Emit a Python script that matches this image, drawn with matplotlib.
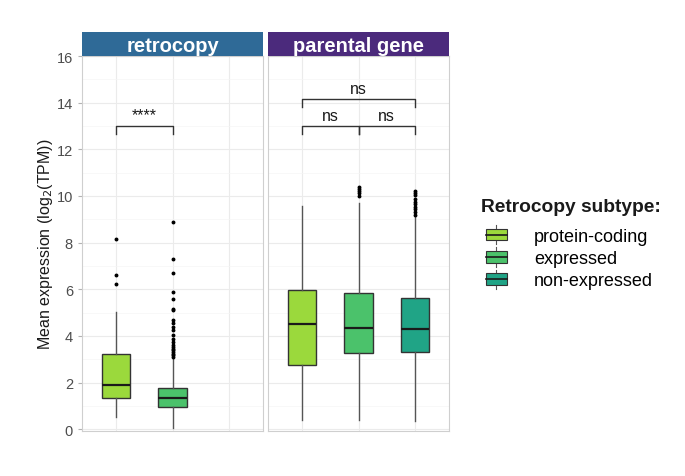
import matplotlib
matplotlib.use("Agg")
import matplotlib.pyplot as plt
from matplotlib.patches import Rectangle
from matplotlib.lines import Line2D
from matplotlib.legend_handler import HandlerBase

plt.rcParams['font.family'] = ['Liberation Sans', 'DejaVu Sans']

panels = ["retrocopy", "parental gene"]
subtypes = ["protein-coding", "expressed", "non-expressed"]
colors = ["#9bd93c", "#4bc26b", "#20a486"]
strip_colors = ["#2f6a97", "#4b2a7c"]

# whislo, q1, med, q3, whishi
retro_stats = [[0.51, 1.35, 1.89, 3.22, 5.03],
               [0.05, 0.97, 1.35, 1.78, 3.03]]
retro_fliers = [[8.16, 6.6, 6.21],
                [8.87, 7.29, 6.7, 5.88, 5.6, 5.14, 5.1, 4.67, 4.57, 4.39, 4.24,
                 4.06, 3.89, 3.75, 3.6, 3.53, 3.46, 3.39, 3.32, 3.25, 3.18, 3.1]]
parent_stats = [[0.4, 2.74, 4.53, 5.97, 9.59],
                [0.4, 3.26, 4.33, 5.85, 9.7],
                [0.36, 3.32, 4.29, 5.63, 9.13]]
parent_fliers = [[],
                 [10.37, 10.3, 10.23, 10.13, 10.0],
                 [10.23, 10.13, 10.03, 9.87, 9.75, 9.65, 9.55, 9.45, 9.32, 9.18]]

# (x1, x2, y, label)
retro_sig = [(1, 2, 13.0, "****")]
parent_sig = [(1, 2, 13.0, "ns"), (2, 3, 13.0, "ns"), (1, 3, 14.15, "ns")]

ylabel = "Mean expression (log$_2$(TPM))"
yticks = [0, 2, 4, 6, 8, 10, 12, 14, 16]
legend_title = "Retrocopy subtype:"


def make_stats(stats, fliers):
    out = []
    for s, f in zip(stats, fliers):
        out.append(dict(whislo=s[0], q1=s[1], med=s[2], q3=s[3], whishi=s[4], fliers=f))
    return out


fig = plt.figure(figsize=(6.85, 4.77), dpi=100)
W, H = 685.0, 477.0
bottom, top = 431.5, 57.0
axes_x = [82, 268]
ax_w = 181

data = [(retro_stats, retro_fliers, retro_sig), (parent_stats, parent_fliers, parent_sig)]

for i, (stats, fliers, sig) in enumerate(data):
    ax = fig.add_axes([axes_x[i] / W, (H - bottom) / H, ax_w / W, (bottom - top) / H])
    bs = make_stats(stats, fliers)
    pos = list(range(1, len(bs) + 1))
    res = ax.bxp(bs, positions=pos, widths=0.5, patch_artist=True, showcaps=False,
                 boxprops=dict(edgecolor="#333333", linewidth=1.0),
                 whiskerprops=dict(color="#555555", linewidth=1.0),
                 medianprops=dict(color="#1a1a1a", linewidth=1.6),
                 flierprops=dict(marker="o", markersize=1.8, markerfacecolor="black",
                                 markeredgecolor="black", linestyle="none"))
    for patch, c in zip(res["boxes"], colors):
        patch.set_facecolor(c)
    ax.set_xlim(0.4, 3.6)
    ax.set_ylim(-0.05, 16.0)
    ax.set_xticks([1, 2, 3])
    ax.set_xticklabels([])
    ax.set_yticks(yticks)
    ax.set_yticks([1, 3, 5, 7, 9, 11, 13, 15], minor=True)
    ax.grid(True, which="major", color="#ebebeb", linewidth=0.8)
    ax.grid(True, which="minor", axis="y", color="#f5f5f5", linewidth=0.5)
    ax.set_axisbelow(True)
    ax.tick_params(axis="x", length=0)
    ax.tick_params(axis="y", which="minor", length=0)
    ax.tick_params(axis="y", which="major", length=3, color="#b3b3b3",
                   labelcolor="#4d4d4d", labelsize=10.5)
    for sp in ax.spines.values():
        sp.set_color("#cfcfcf")
        sp.set_linewidth(0.8)
    if i == 0:
        ax.set_ylabel(ylabel, fontsize=11.5, color="#1a1a1a", labelpad=1)
    else:
        ax.set_yticklabels([])
        ax.tick_params(axis="y", length=0)

    for x1, x2, y, lab in sig:
        ax.plot([x1, x1, x2, x2], [y - 0.33, y, y, y - 0.33], color="#333333", lw=1.0)
        ax.text((x1 + x2) / 2, y + 0.15, lab, ha="center", va="bottom", fontsize=11.5,
                color="#1a1a1a")

    # strip
    sax = fig.add_axes([axes_x[i] / W, (H - top) / H, ax_w / W, 24 / H])
    sax.set_xticks([])
    sax.set_yticks([])
    sax.set_facecolor(strip_colors[i])
    for sp in sax.spines.values():
        sp.set_visible(False)
    sax.text(0.5, 0.45, panels[i], ha="center", va="center", color="white",
             fontsize=14.5, fontweight="bold", transform=sax.transAxes)


class BoxKey(HandlerBase):
    def create_artists(self, legend, orig_handle, xdescent, ydescent, width, height,
                       fontsize, trans):
        c = orig_handle.get_facecolor()
        bh = height * 0.9
        y0 = -ydescent + (height - bh) / 2
        cx = -xdescent + width / 2
        rect = Rectangle((-xdescent, y0), width, bh, facecolor=c, edgecolor="#333333",
                         lw=0.8, transform=trans)
        med = Line2D([-xdescent, -xdescent + width], [y0 + bh / 2] * 2, color="#1a1a1a",
                     lw=1.2, transform=trans)
        w1 = Line2D([cx, cx], [y0 + bh, y0 + bh + height * 0.3], color="#555555", lw=0.8,
                    transform=trans)
        w2 = Line2D([cx, cx], [y0, y0 - height * 0.3], color="#555555", lw=0.8,
                    transform=trans)
        return [w1, w2, rect, med]


fig.text(481 / W, 1 - 208 / H, legend_title, ha="left", va="center",
         fontsize=13.8, fontweight="bold", color="#1a1a1a")
handles = [Rectangle((0, 0), 1, 1, facecolor=c) for c in colors]
leg = fig.legend(handles, subtypes, handler_map={Rectangle: BoxKey()},
                 loc="upper left", bbox_to_anchor=(486 / W, 1 - 229 / H),
                 frameon=False, fontsize=13, borderpad=0, borderaxespad=0,
                 handlelength=1.15, handleheight=0.72, handletextpad=1.5,
                 labelspacing=0.29)

fig.savefig("out.png", dpi=100)
